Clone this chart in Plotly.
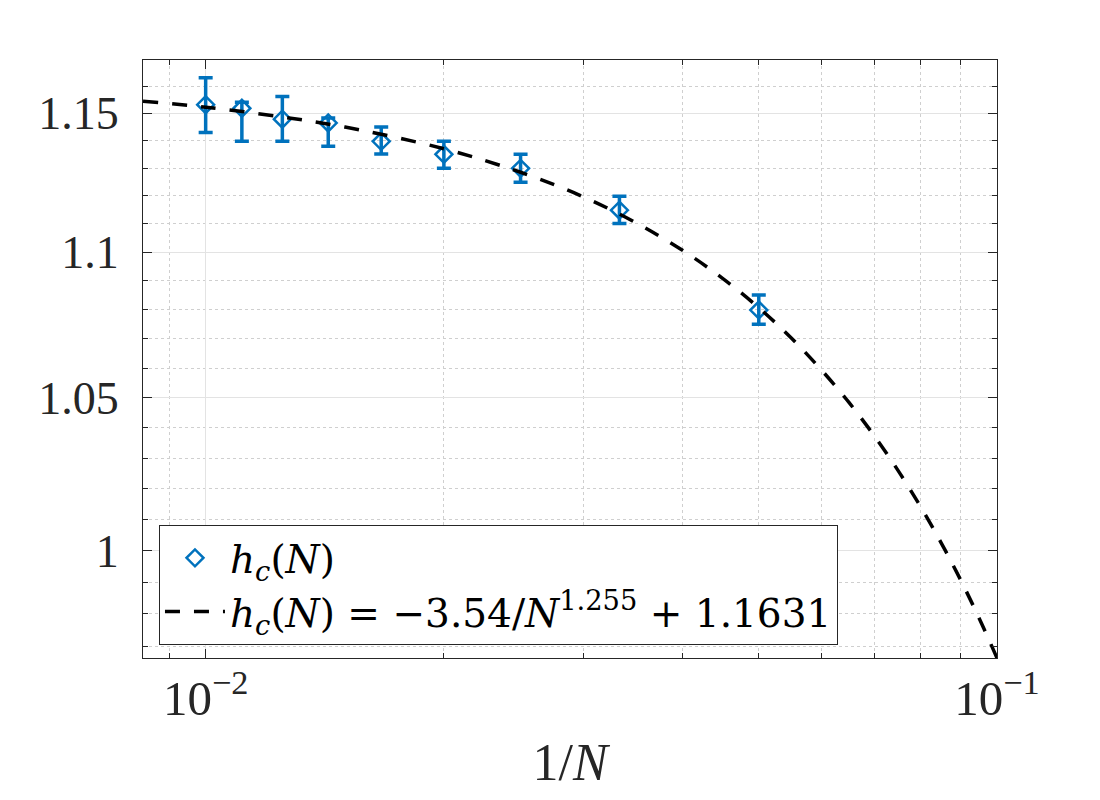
import plotly.graph_objects as go
import numpy as np

# Data
inv_N = [1/100, 1/90, 1/80, 1/70, 1/60, 1/50, 1/40, 1/30, 1/20]
h_c = [1.1531, 1.1518, 1.1478, 1.1464, 1.1397, 1.1350, 1.1299, 1.1149, 1.0799]
err_plus = [0.0100, 0.0022, 0.0083, 0.0018, 0.0052, 0.0047, 0.0051, 0.0050, 0.0052]
err_minus = [0.0102, 0.0121, 0.0081, 0.0085, 0.0046, 0.0051, 0.0050, 0.0047, 0.0049]

# Fit curve
fit_x = [1/120, 0.01, 0.0125, 0.015, 0.02, 0.025, 0.03, 0.035, 0.04, 0.045,
         0.05, 0.055, 0.06, 0.065, 0.07, 0.075, 0.08, 0.085, 0.09, 0.095, 0.1]
fit_y = [1.1544, 1.1522, 1.1486, 1.1449, 1.1370, 1.1285, 1.1197, 1.1104, 1.1008, 1.0909,
         1.0807, 1.0702, 1.0594, 1.0485, 1.0373, 1.0259, 1.0143, 1.0025, 0.9906, 0.9785, 0.9663]

y_ticks = [1.0, 1.05, 1.1, 1.15]
y_ticktext = ["1", "1.05", "1.1", "1.15"]
y_minor = [0.97, 0.98, 0.99, 1.01, 1.02, 1.03, 1.04, 1.06, 1.07, 1.08, 1.09,
           1.11, 1.12, 1.13, 1.14, 1.16]
x_ticks = [0.01, 0.1]
x_ticktext = ["10<sup>\u22122</sup>", "10<sup>\u22121</sup>"]
x_minor = [0.009, 0.02, 0.03, 0.04, 0.05, 0.06, 0.07, 0.08, 0.09]

BLUE = "#0072BD"
FONT = "Liberation Serif"
LEGFONT = "DejaVu Serif"
TXT = "#262626"

fig = go.Figure()
fig.add_trace(go.Scatter(
    x=inv_N, y=h_c, mode="markers",
    name="<i>h</i><sub><i>c</i></sub>(<i>N</i>)",
    marker=dict(symbol="diamond-open", size=13, color=BLUE, line=dict(width=2.5, color=BLUE)),
    error_y=dict(type="data", symmetric=False, array=err_plus, arrayminus=err_minus,
                 color=BLUE, thickness=3.5, width=7),
))
fig.add_trace(go.Scatter(
    x=fit_x, y=fit_y, mode="lines", line_shape="spline",
    name="<i>h</i><sub><i>c</i></sub>(<i>N</i>) = \u22123.54/<i>N</i><sup>1.255</sup> + 1.1631",
    line=dict(color="black", width=3.5, dash="15px,14px"),
))

axis_common = dict(
    showline=True, linecolor="#262626", linewidth=1.2, mirror="ticks",
    ticks="inside", ticklen=9, tickwidth=1, tickcolor="#262626",
    showgrid=True, gridcolor="#e3e3e3", gridwidth=1, automargin=False,
    zeroline=False,
)

fig.update_xaxes(
    type="log", range=[np.log10(1/120), -1],
    tickmode="array", tickvals=x_ticks, ticktext=x_ticktext,
    tickfont=dict(family=FONT, size=49, color=TXT),
    minor=dict(tickmode="array", tickvals=x_minor, ticks="inside", ticklen=5,
               tickcolor="#262626", showgrid=True, gridcolor="#cfcfcf", griddash="dot", gridwidth=1),
    title=dict(text="1/<i>N</i>", font=dict(family=FONT, size=52, color=TXT), standoff=18),
    ticklabelstandoff=-3,
    **axis_common,
)
fig.update_yaxes(
    type="log", range=[np.log10(0.9663), np.log10(1.1697)],
    tickmode="array", tickvals=y_ticks, ticktext=y_ticktext,
    tickfont=dict(family=FONT, size=46, color=TXT),
    minor=dict(tickmode="array", tickvals=y_minor, ticks="inside", ticklen=5,
               tickcolor="#262626", showgrid=True, gridcolor="#cfcfcf", griddash="dot", gridwidth=1),
    ticklabelstandoff=14,
    **axis_common,
)

# page body has an 8px margin, so the figure is sized/offset to compensate
fig.update_layout(
    width=1084, height=784,
    margin=dict(l=135, r=95, t=52, b=134),
    paper_bgcolor="white", plot_bgcolor="white",
    showlegend=True,
    legend=dict(x=0.0187, y=0.2224, xanchor="left", yanchor="top",
                bgcolor="white", bordercolor="#262626", borderwidth=1,
                font=dict(family=LEGFONT, size=39, color="black"),
                itemwidth=60, tracegroupgap=0),
)

fig.write_html("out.html")
